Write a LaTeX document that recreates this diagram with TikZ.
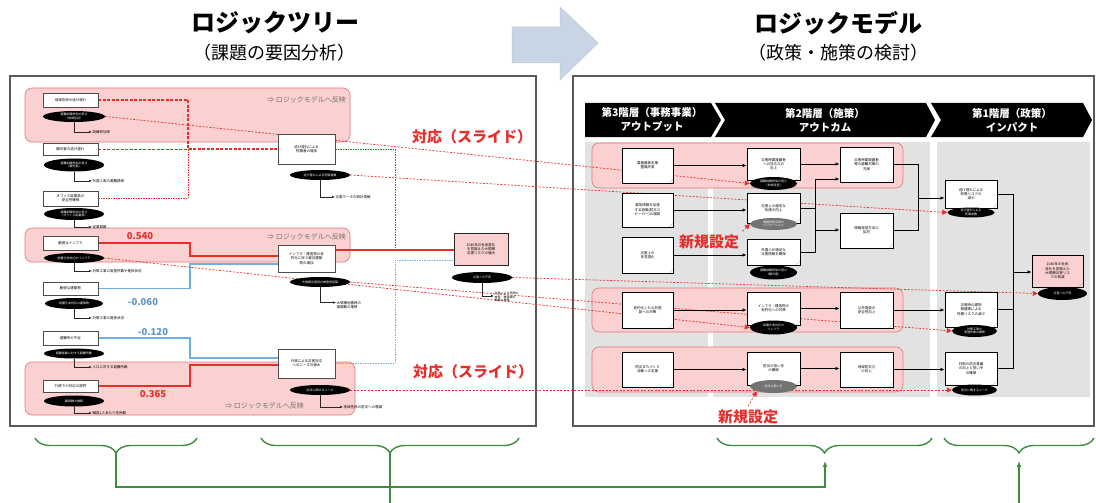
\documentclass[tikz,border=0pt]{standalone}
\usepackage{fontspec}
\setmainfont{Noto Sans CJK JP}
\usetikzlibrary{arrows.meta,shapes.geometric,decorations.pathreplacing}
\pgfdeclarelayer{bg}
\pgfdeclarelayer{ln}
\pgfsetlayers{bg,ln,main}
\definecolor{pinkf}{RGB}{250,208,208}
\definecolor{pinkd}{RGB}{228,120,120}
\definecolor{redl}{RGB}{232,45,45}
\definecolor{bluel}{RGB}{110,175,228}
\definecolor{grn}{RGB}{62,140,62}
\definecolor{arrbg}{RGB}{200,213,228}
\definecolor{colbg}{RGB}{226,226,226}
\newcommand\tf{\fontsize{3.5}{4.3}\selectfont}
\newcommand\ef{\fontsize{3}{3.6}\selectfont}
\begin{document}
\begin{tikzpicture}[x=1pt,y=-1pt,
  tbox/.style={draw=black!70, fill=white, line width=0.6pt, inner sep=0.5pt, align=center, font=\tf, minimum width=55pt, text width=52pt},
  dbox/.style={draw=black, fill=white, line width=0.9pt, inner sep=0.5pt, align=center, font=\tf, text width=48pt,
     path picture={\fill[black!60] ([xshift=-4pt]path picture bounding box.south east) -- ([yshift=4pt]path picture bounding box.south east) -- cycle;}},
  bel/.style={ellipse, fill=black, text=white, inner sep=0pt, align=center, font=\ef},
  gel/.style={ellipse, fill=black!55, text=white, inner sep=0pt, align=center, font=\ef},
  lab/.style={anchor=west, font=\tf, align=left, inner sep=0.5pt},
  refl/.style={anchor=west, font=\fontsize{7}{8}\selectfont, text=black!55, inner sep=0pt},
  pinkbox/.style={fill=pinkf, draw=pinkd, line width=0.6pt, rounded corners=7pt},
  elb/.style={draw=black!85, line width=0.6pt, -{Latex[length=3pt,width=2.5pt]}},
  rdash/.style={draw=redl, line width=1.5pt, dash pattern=on 3pt off 1.5pt},
  rdot/.style={draw=redl, line width=1pt, dash pattern=on 1.5pt off 1pt},
  rsolid/.style={draw=redl, line width=1.6pt},
  bsolid/.style={draw=bluel, line width=1.2pt},
  bdot/.style={draw=bluel, line width=1pt, dash pattern=on 1.5pt off 1pt},
  rl/.style={draw=redl, line width=0.7pt, dash pattern=on 2pt off 1.5pt, -{Triangle[length=5pt,width=5pt]}},
  arr/.style={draw=black, line width=0.8pt, -{Latex[length=4pt,width=3.5pt]}},
  hdr/.style={text=white, font=\fontsize{10.5}{14}\selectfont\bfseries, align=center},
  num/.style={font=\fontsize{9.5}{11}\selectfont\bfseries},
  big/.style={text=redl, font=\fontsize{15}{18}\selectfont\bfseries},
  gline/.style={draw=grn, line width=1.4pt}
]
\useasboundingbox (0,0) rectangle (1096,503);

% ---------- background layer ----------
\begin{pgfonlayer}{bg}
\fill[white] (0,0) rectangle (1096,503);
\filldraw[fill=arrbg, draw=arrbg!85!gray, line width=0.5pt] (512,27) -- (560,27) -- (560,7) -- (598,43) -- (560,80) -- (560,63) -- (512,63) -- cycle;
\draw[black!65, line width=1.2pt, fill=white] (10,76) rectangle (536,426);
\draw[black!65, line width=1.2pt, fill=white] (573,76) rectangle (1094,426);
% left pink regions
\path[pinkbox] (25,88) rectangle (350,142);
\path[pinkbox] (25,228) rectangle (350,262);
\path[pinkbox] (25,362) rectangle (355,415);
% right column backgrounds
\fill[colbg] (585,142) rectangle (708,397);
\fill[colbg] (713,142) rectangle (930,397);
\fill[colbg] (937,142) rectangle (1090,397);
% right pink rows
\path[pinkbox] (592,143) rectangle (903,188);
\path[pinkbox] (592,288) rectangle (903,332);
\path[pinkbox] (592,347) rectangle (903,392);
% chevrons
\fill[black] (585,103) -- (711,103) -- (721,120) -- (711,137) -- (585,137) -- cycle;
\fill[black] (715,103) -- (926,103) -- (935,120) -- (926,137) -- (715,137) -- (725,120) -- cycle;
\fill[black] (931,103) -- (1083,103) -- (1092,120) -- (1083,137) -- (931,137) -- (941,120) -- cycle;
\end{pgfonlayer}

% ---------- titles ----------
\node[font=\fontsize{24}{28}\selectfont\bfseries] (t1) at (275,23) {ロジックツリー};
\node[font=\fontsize{18}{22}\selectfont] (t1s) at (274,53) {（課題の要因分析）};
\node[font=\fontsize{24}{28}\selectfont\bfseries] (t2) at (838,23) {ロジックモデル};
\node[font=\fontsize{18}{22}\selectfont] (t2s) at (838,53) {（政策・施策の検討）};

% ---------- left panel ----------
\node[refl] (r1) at (267,100) {⇒ ロジックモデルへ反映};
\node[refl] (r2) at (267,237) {⇒ ロジックモデルへ反映};
\node[refl] (r3) at (225,406) {⇒ ロジックモデルへ反映};

\node[tbox, minimum height=14pt] (L1) at (70.5,100) {地域住民の逃げ遅れ};
\node[bel, minimum width=62pt, minimum height=11pt] (L1e) at (74,116.5) {避難訓練参加の低さ\\（地域住民）};
\node[lab] (L1t) at (92,132) {訓練参加率};
\node[tbox, minimum height=12pt] (L2) at (70.5,149.5) {観光客の逃げ遅れ};
\node[bel, minimum width=60pt, minimum height=13pt] (L2e) at (74,165) {避難訓練参加の低さ\\（観光客）};
\node[lab] (L2t) at (92,181) {外国人客の避難誘導};
\node[tbox, minimum height=15pt] (L3) at (70.5,198.5) {オフィス従業員の\\安全性確保};
\node[bel, minimum width=60pt, minimum height=12pt] (L3e) at (74,214) {避難訓練参加の低さ\\（オフィス従業員）};
\node[lab] (L3t) at (92,227) {従業員数};
\node[tbox, minimum height=14pt] (L4) at (70.5,243) {脆弱なインフラ};
\node[bel, minimum width=60pt, minimum height=10pt] (L4e) at (74,258) {耐震化未対応のインフラ};
\node[lab] (L4t) at (92,271) {対策工事の実施件数や進捗状況};
\node[tbox, minimum height=13pt] (L5) at (70.5,288.5) {脆弱な建築物};
\node[bel, minimum width=58pt, minimum height=11pt] (L5e) at (74,303.5) {耐震化未対応の建築物};
\node[lab] (L5t) at (92,318) {対策工事の進捗状況};
\node[tbox, minimum height=14pt] (L6) at (70.5,338) {避難所の不足};
\node[bel, minimum width=60pt, minimum height=10pt] (L6e) at (74,353.5) {避難者数に対する避難所数};
\node[lab] (L6t) at (92,367) {人口に対する避難所数};
\node[tbox, minimum height=12pt] (L7) at (70.5,386) {行政での対応の限界};
\node[bel, minimum width=60pt, minimum height=11pt] (L7e) at (74,401) {職員数の推移};
\node[lab] (L7t) at (92,413) {職員1人あたり住民数};

\node[tbox, minimum width=57pt, minimum height=30pt] (M1) at (306.5,149) {逃げ遅れによる\\死傷者の増加};
\node[bel, minimum width=60pt, minimum height=10pt] (M1e) at (320,175) {逃げ遅れによる死傷者数};
\node[lab] (M1t) at (335,197) {災害データの統計情報};
\node[tbox, minimum width=57pt, minimum height=27pt] (M2) at (306.5,258.5) {インフラ・建造物の老\\朽化に伴う被災建築\\物の増加};
\node[bel, minimum width=60pt, minimum height=10pt] (M2e) at (320,282) {大規模災害時の被害想定額};
\node[lab] (M2t) at (336,305) {大規模地震時の\\損壊数の推移};
\node[tbox, minimum width=57pt, minimum height=29pt] (M3) at (306.5,363.5) {行政による災害対応\\へのニーズの増大};
\node[bel, minimum width=60pt, minimum height=10pt] (M3e) at (320,390) {防災に関するニーズ};
\node[lab] (M3t) at (343,407) {地域住民の防災への意識};

\node[tbox, draw=black!85, line width=1pt, fill=pinkf, minimum width=54pt, text width=50pt, minimum height=32pt] (F) at (481,249) {2040年の社会変化\\を見据えた大規模\\災害リスクの増大};
\node[bel, minimum width=60pt, minimum height=11pt] (Fe) at (482,277.5) {災害への不安};
\node[lab, font=\ef] (Ft) at (494,297) {災害による年間の\\被害・被害額の\\推移の推移};

\node[num, text=redl] (n1) at (140,236) {0.540};
\node[num, text=bluel!85!black] (n2) at (143,302) {-0.060};
\node[num, text=bluel!85!black] (n3) at (153,332) {-0.120};
\node[num, text=redl] (n4) at (153,394) {0.365};

\node[big] (s1) at (472,137) {対応（スライド）};
\node[big] (s2) at (473,372) {対応（スライド）};

% elbow arrows
\draw[elb] (L1e.south) |- (L1t.west);
\draw[elb] (L2e.south) |- (L2t.west);
\draw[elb] (L3e.south) |- (L3t.west);
\draw[elb] (L4e.south) |- (L4t.west);
\draw[elb] (L5e.south) |- (L5t.west);
\draw[elb] (L6e.south) |- (L6t.west);
\draw[elb] (L7e.south) |- (L7t.west);
\draw[elb] (M1e.south) |- (M1t.west);
\draw[elb] (M2e.south) |- ([yshift=2.5pt]M2t.west);
\draw[elb] (M3e.south) |- (M3t.west);
\draw[elb] (Fe.south) |- ([yshift=1pt]Ft.west);

% left tree connectors
\coordinate (j1) at (188,149);
\coordinate (jr1) at (190,256);
\coordinate (jb1) at (190,264);
\coordinate (jb2) at (190,358);
\coordinate (jr2) at (190,365);
\coordinate (jr3) at (395,250);
\coordinate (jb3) at (395,260);
\begin{pgfonlayer}{ln}
\draw[rdash] (L1.east) -| (j1) -- (j1 -| M1.west);
\draw[rdash] (L2.east) -- (L2.east -| j1);
\draw[rdot] (L3.east) -| (j1);
\draw[rsolid] (L4.east) -| (jr1) -- (jr1 -| M2.west);
\draw[bsolid] (L5.east) -| (jb1) -- (jb1 -| M2.west);
\draw[bsolid] (L6.east) -| (jb2) -- (jb2 -| M3.west);
\draw[rsolid] (L7.east) -| (jr2) -- (jr2 -| M3.west);
\draw[rdot] (M1.east) -| (jr3);
\draw[rsolid] (jr3 -| M2.east) -- (jr3 -| F.west);
\draw[bdot] (M3.east) -| (jb3) -- (jb3 -| F.west);
\end{pgfonlayer}

% ---------- right panel ----------
\node[hdr] (h3) at (652,120) {第3階層（事務事業）\\アウトプット};
\node[hdr] (h2) at (825,120) {第2階層（施策）\\アウトカム};
\node[hdr] (h1) at (1012,120) {第1階層（政策）\\インパクト};

\node[dbox, minimum width=51pt, minimum height=35pt] (A) at (647.5,165.5) {要援護者名簿\\整備充実};
\node[dbox, minimum width=51pt, minimum height=34pt] (B) at (647.5,210) {緊急情報を伝達\\する設備(防災ス\\ピーカー)の増設};
\node[dbox, minimum width=51pt, minimum height=36pt] (C) at (647.5,255) {災害上の\\多言語化};
\node[dbox, minimum width=51pt, minimum height=36pt] (D) at (647.5,310) {老朽化した公共施\\設への対策};
\node[dbox, minimum width=51pt, minimum height=35pt] (E) at (647.5,369.5) {防災まちづくり\\活動への支援};

\node[dbox, minimum width=53pt, minimum height=32pt] (RF) at (773.5,164) {災害時要援護者\\への対応力の\\向上};
\node[bel, minimum width=47pt, minimum height=13pt] (RFe) at (773.5,183.5) {避難訓練参加の低さ\\（地域住民）};
\node[dbox, minimum width=53pt, minimum height=30pt] (RG) at (773.5,208) {災害上の適切な\\伝達の向上};
\node[gel, minimum width=47pt, minimum height=12pt] (RGe) at (773.5,224) {情報発信手段の\\バリエーション};
\node[dbox, minimum width=53pt, minimum height=26pt] (RH) at (773.5,252) {外国人が適切な\\災害情報を確保};
\node[bel, minimum width=47pt, minimum height=14pt] (RHe) at (773.5,272.5) {避難訓練参加の低さ\\（観光客）};
\node[dbox, minimum width=53pt, minimum height=33pt] (RI) at (773.5,308.5) {インフラ・建造物の\\老朽化への対策};
\node[bel, minimum width=47pt, minimum height=14pt] (RIe) at (773.5,327.5) {耐震化未対応の\\インフラ};
\node[dbox, minimum width=53pt, minimum height=33pt] (RJ) at (773.5,368.5) {防災の担い手\\の確保};
\node[gel, minimum width=47pt, minimum height=13pt] (RJe) at (773.5,386.5) {防災の担い手};

\node[dbox, minimum width=53pt, minimum height=35pt] (K) at (866.5,164.5) {災害時要援護者\\等の避難対策の\\充実};
\node[dbox, minimum width=53pt, minimum height=35pt] (LL) at (866.5,230.5) {情報発信方法の\\拡充};
\node[dbox, minimum width=53pt, minimum height=36pt] (MM) at (866.5,310) {公共施設の\\安全性向上};
\node[dbox, minimum width=53pt, minimum height=35pt] (NN) at (866.5,369.5) {地域防災力\\の向上};

\node[dbox, minimum width=52pt, minimum height=28pt] (O) at (971,194) {逃げ遅れによる\\死傷リスクの\\減少};
\node[bel, minimum width=47pt, minimum height=10pt] (Oe) at (971,212.5) {逃げ遅れによる\\死傷者数};
\node[dbox, minimum width=52pt, minimum height=35pt] (P) at (971,309.5) {災害時の建物\\倒壊等による\\死傷リスクの減少};
\node[bel, minimum width=45pt, minimum height=12pt] (Pe) at (974.5,331) {対策工事の\\実施件数の推移};
\node[dbox, minimum width=52pt, minimum height=33pt] (Q) at (971,368.5) {共助の防災意識\\の向上と担い手\\の確保};
\node[bel, minimum width=45pt, minimum height=11pt] (Qe) at (974.5,390) {防災に関するニーズ};
\node[dbox, fill=pinkf, minimum width=51pt, minimum height=32pt] (R) at (1057.5,271) {2040年の社会\\変化を見据えた\\大規模災害リス\\クの低減};
\node[bel, minimum width=49pt, minimum height=13pt] (Re) at (1062.5,293.5) {災害への不安};

\node[big] (nk1) at (709,242) {新規設定};
\node[big] (nk2) at (748,417) {新規設定};

% black arrows in logic model
\draw[arr] (A.east) -- (A.east -| RF.west);
\draw[arr] (B.east) -- (B.east -| RG.west);
\draw[arr] (C.east) -- (C.east -| RH.west);
\draw[arr] (D.east) -- (D.east -| RI.west);
\draw[arr] (E.east) -- (E.east -| RJ.west);
\draw[arr] (RF.east) -- (RF.east -| K.west);
\coordinate (g1) at (815,179);
\coordinate (g2) at (815,230);
\draw[arr] (RG.east) -| (g1) -- (g1 -| K.west);
\draw[arr] (RG.east) -| (g2) -- (g2 -| LL.west);
\draw[draw=black, line width=0.8pt] (RH.east) -| (g2);
\draw[arr] (RI.east) -- (RI.east -| MM.west);
\draw[arr] (RJ.east) -- (RJ.east -| NN.west);
\coordinate (k1) at (918,198);
\draw[arr] (K.east) -| (k1) -- (k1 -| O.west);
\draw[draw=black, line width=0.8pt] (LL.east) -| (k1);
\draw[arr] (MM.east) -- (MM.east -| P.west);
\draw[arr] (NN.east) -- (NN.east -| Q.west);
\coordinate (q1) at (1013,272);
\draw[arr] (O.east) -| (q1) -- (q1 -| R.west);
\draw[draw=black, line width=0.8pt] (P.east) -| (q1);
\draw[draw=black, line width=0.8pt] (Q.east) -| (q1);

% red correspondence lines
\begin{pgfonlayer}{ln}
\draw[rl] (L1e.east) -- (RFe.west);
\draw[rl] (M1e.east) -- (Oe.west);
\draw[rl] (L4e.east) -- (RIe.west);
\draw[rl] (M2e.east) -- (Pe.west);
\draw[rl] (Fe.east) -- (Re.west);
\draw[rl] (M3e.east) -- (Qe.west);
\end{pgfonlayer}
\draw[rl] (nk1.north east) -- (RGe.west);
\draw[rl] (nk2.north) -- (RJe.south west);

% ---------- green braces ----------
\draw[gline, decorate, decoration={brace, mirror, amplitude=15pt}] (35,438) -- (197,438);
\draw[gline, decorate, decoration={brace, mirror, amplitude=15pt}] (261,438) -- (519,438);
\draw[gline, decorate, decoration={brace, mirror, amplitude=15pt}] (717,438) -- (932,438);
\draw[gline, decorate, decoration={brace, mirror, amplitude=15pt}] (944,438) -- (1094,438);
\coordinate (b1) at (116,453);
\coordinate (b2) at (390,453);
\coordinate (b2e) at (390,503);
\coordinate (hb) at (825,487);
\coordinate (b3a) at (825,461);
\coordinate (b4e) at (1019,503);
\coordinate (b4a) at (1019,461);
\draw[gline, -{Latex[length=6pt,width=5pt]}] (b1) |- (hb) -- (b3a);
\draw[gline] (b2) -- (b2e);
\draw[gline, -{Latex[length=6pt,width=5pt]}] (b4e) -- (b4a);
\end{tikzpicture}
\end{document}
